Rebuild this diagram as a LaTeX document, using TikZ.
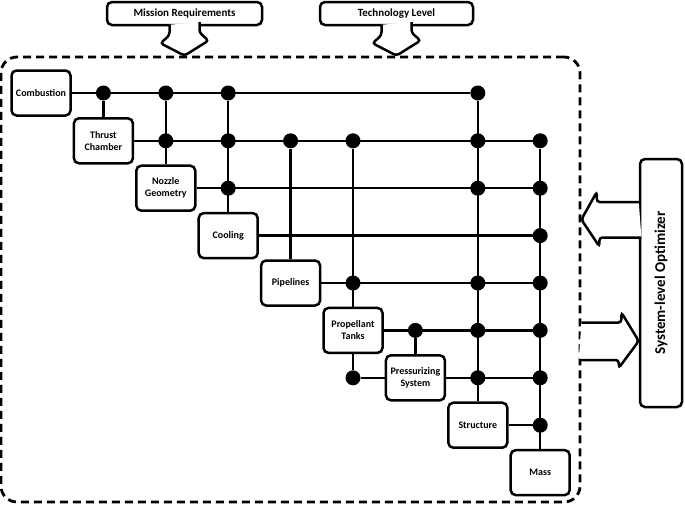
\documentclass[tikz,border=0pt]{standalone}
\usepackage{fontspec}
\setmainfont{Carlito}
\usepackage{tikz}
\usetikzlibrary{positioning, calc}
\tikzset{
  blockbox/.style={
    draw, rounded corners=5pt, line width=2.5pt, align=center,
    font=\fontsize{10}{12}\selectfont\bfseries, fill=white,
    minimum width=59pt, minimum height=45pt, inner sep=1pt
  },
  callbox/.style={
    draw, rounded corners=5pt, line width=2.5pt, align=center,
    font=\fontsize{11}{12}\selectfont\bfseries, fill=white,
    minimum height=23pt, inner sep=1pt
  },
  calltip/.style={
    draw, line width=2.5pt, fill=white, rounded corners=3pt
  },
  optbox/.style={
    draw, rounded corners=5pt, line width=2.5pt, fill=white,
    minimum width=42pt, minimum height=248pt
  },
  optlabel/.style={
    font=\fontsize{15}{16}\selectfont\bfseries, inner sep=0pt
  },
  framebox/.style={
    draw, line width=2.8pt, rounded corners=16pt,
    dash pattern=on 8pt off 5pt
  },
  bigarrow/.style={
    draw, line width=2.5pt, fill=white, rounded corners=3pt
  },
  junction/.style={
    circle, fill=black, minimum size=15pt, inner sep=0pt
  },
  linkline/.style={line width=2.4pt},
}
\begin{document}
\begin{tikzpicture}[x=1pt, y=-1pt]
  \useasboundingbox (0,0) rectangle (685,507);

  % System boundary
  \node[framebox, minimum width=579pt, minimum height=445pt] (sys) at (290.5,279.5) {};

  % Subsystem blocks on the diagonal
  \node[blockbox] (comb) at (41,93) {Combustion};
  \node[blockbox] (thrust) at (103.4,140.8) {Thrust\\Chamber};
  \node[blockbox] (nozzle) at (165.8,188.2) {Nozzle\\Geometry};
  \node[blockbox] (cool) at (228.2,235.6) {Cooling};
  \node[blockbox] (pipe) at (290.6,283) {Pipelines};
  \node[blockbox] (tank) at (353,330.4) {Propellant\\Tanks};
  \node[blockbox] (press) at (415.4,377.8) {Pressurizing\\System};
  \node[blockbox] (struc) at (477.8,425.2) {Structure};
  \node[blockbox] (mass) at (540.2,472.6) {Mass};

  % Coupling points
  \node[junction] (comb-thrust) at (thrust |- comb) {};
  \node[junction] (comb-nozzle) at (nozzle |- comb) {};
  \node[junction] (comb-cool) at (cool |- comb) {};
  \node[junction] (comb-struc) at (struc |- comb) {};

  \node[junction] (thrust-nozzle) at (nozzle |- thrust) {};
  \node[junction] (thrust-cool) at (cool |- thrust) {};
  \node[junction] (thrust-pipe) at (pipe |- thrust) {};
  \node[junction] (thrust-tank) at (tank |- thrust) {};
  \node[junction] (thrust-struc) at (struc |- thrust) {};
  \node[junction] (thrust-mass) at (mass |- thrust) {};

  \node[junction] (nozzle-cool) at (cool |- nozzle) {};
  \node[junction] (nozzle-struc) at (struc |- nozzle) {};
  \node[junction] (nozzle-mass) at (mass |- nozzle) {};

  \node[junction] (cool-mass) at (mass |- cool) {};

  \node[junction] (pipe-tank) at (tank |- pipe) {};
  \node[junction] (pipe-struc) at (struc |- pipe) {};
  \node[junction] (pipe-mass) at (mass |- pipe) {};

  \node[junction] (tank-press) at (press |- tank) {};
  \node[junction] (tank-struc) at (struc |- tank) {};
  \node[junction] (tank-mass) at (mass |- tank) {};

  \node[junction] (press-tank) at (tank |- press) {};
  \node[junction] (press-struc) at (struc |- press) {};
  \node[junction] (press-mass) at (mass |- press) {};

  \node[junction] (struc-mass) at (mass |- struc) {};

  % Horizontal couplings
  \draw[linkline] (comb.east) -- (comb-struc);
  \draw[linkline] (thrust.east) -- (thrust-mass);
  \draw[linkline] (nozzle.east) -- (nozzle-mass);
  \draw[linkline] (cool.east) -- (cool-mass);
  \draw[linkline] (pipe.east) -- (pipe-mass);
  \draw[linkline] (tank.east) -- (tank-mass);
  \draw[linkline] (press-tank) -- (press.west);
  \draw[linkline] (press.east) -- (press-mass);
  \draw[linkline] (struc.east) -- (struc-mass);

  % Vertical couplings
  \draw[linkline] (comb-thrust) -- (thrust.north);
  \draw[linkline] (comb-nozzle) -- (nozzle.north);
  \draw[linkline] (comb-cool) -- (cool.north);
  \draw[linkline] (thrust-pipe) -- (pipe.north);
  \draw[linkline] (thrust-tank) -- (tank.north);
  \draw[linkline] (tank.south) -- (press-tank);
  \draw[linkline] (tank-press) -- (press.north);
  \draw[linkline] (comb-struc) -- (struc.north);
  \draw[linkline] (thrust-mass) -- (mass.north);

  % Inputs from above
  \node[callbox, minimum width=155pt] (mreq) at (184.5,13.5) {Mission Requirements};
  \node[callbox, minimum width=153pt] (tlev) at (396.5,13.5) {Technology Level};
  \draw[calltip] ($(mreq.south)+(-15,-1.5)$) -- ++(0,10.5) -- ++(-9,8)
    -- (mreq.south |- sys.north) -- ++(24,-15) -- ++(-9,-8) -- ++(0,-10.5);
  \draw[calltip] ($(tlev.south)+(-15,-1.5)$) -- ++(0,10.5) -- ++(-9,8)
    -- (tlev.south |- sys.north) -- ++(24,-15) -- ++(-9,-8) -- ++(0,-10.5);

  % Optimizer loop
  \node[optbox] (opt) at (661,283) {};
  \node[optlabel, rotate=90] (optname) at (opt.center) {System-level Optimizer};
  \coordinate (fbtip) at ($(sys.east)+(0,-60)$);
  \draw[bigarrow] ($(opt.west)+(0,-81)$) -- ++(-42,0) -- ++(0,-10)
    -- (fbtip) -- ++(18,27) -- ++(0,-9) -- ++(42,0);
  \draw[bigarrow] ($(sys.east)+(0,43)$) -- ++(40,0) -- ++(0,-10)
    -- ($(opt.west)+(0,58)$) -- ++(-20,27) -- ++(0,-8) -- ++(-40,0);
\end{tikzpicture}
\end{document}
